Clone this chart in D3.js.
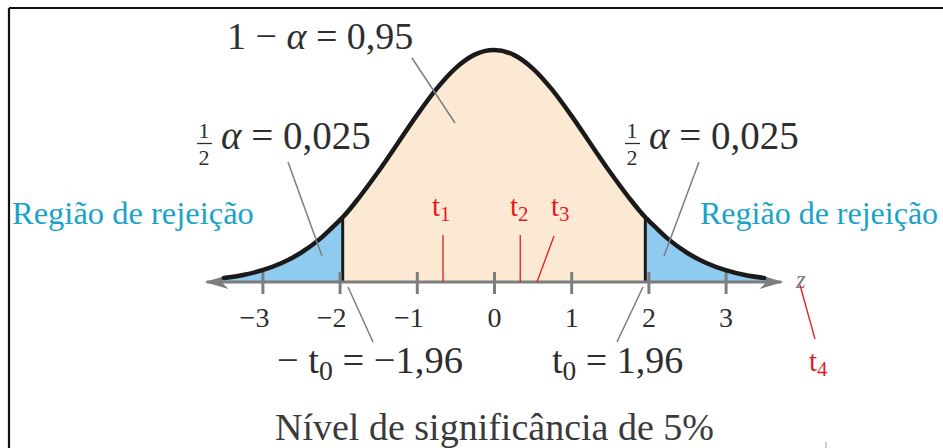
<!DOCTYPE html>
<html>
<head>
<meta charset="utf-8">
<script src="https://cdn.jsdelivr.net/npm/d3@7"></script>
<style>
  body { margin: 0; background: #fff; }
  svg { display: block; }
</style>
</head>
<body>
<svg id="chart" width="943" height="448" font-family="Liberation Serif, Times New Roman, serif"></svg>
<script>
// curve (height relative to the peak)
const curveZ = [-3.5, -3.25, -3, -2.75, -2.5, -2.25, -2, -1.96, -1.75, -1.5, -1.25, -1, -0.75, -0.5, -0.25, 0,
                0.25, 0.5, 0.75, 1, 1.25, 1.5, 1.75, 1.96, 2, 2.25, 2.5, 2.75, 3, 3.25, 3.5];
const curveH = [0.017, 0.030, 0.051, 0.082, 0.126, 0.187, 0.266, 0.279, 0.363, 0.475, 0.596, 0.718, 0.830, 0.921, 0.980, 1,
                0.980, 0.921, 0.830, 0.718, 0.596, 0.475, 0.363, 0.279, 0.266, 0.187, 0.126, 0.082, 0.051, 0.030, 0.017];
const criticalZ = 1.96;
const tickValues = [-3, -2, -1, 0, 1, 2, 3];
const tickLabels = ["\u22123", "\u22122", "\u22121", "0", "1", "2", "3"];
// test statistics marked in red
const testZ = [-0.66, 0.34];
const regionLabel = "Região de rejeição";
const title = "Nível de significância de 5%";

const svg = d3.select("#chart");
const serif = "Liberation Serif, Times New Roman, serif";
const x = d3.scaleLinear().domain([-4, 4]).range([185.2, 802.8]);
const y = d3.scaleLinear().domain([0, 1]).range([282, 50]);

const ink = "#2e2e2e";
const gray = "#7d7d7d";
const red = "#e5181e";
const teal = "#1aa3c9";

// frame (only top and left edges show)
svg.append("line").attr("x1", 9).attr("x2", 943).attr("y1", 8).attr("y2", 8)
    .attr("stroke", "#111").attr("stroke-width", 2.2);
svg.append("line").attr("x1", 9).attr("x2", 9).attr("y1", 8).attr("y2", 448)
    .attr("stroke", "#111").attr("stroke-width", 2.2);

const pts = curveZ.map((z, i) => ({ z: z, h: curveH[i] }));
const area = d3.area().x(d => x(d.z)).y0(y(0)).y1(d => y(d.h)).curve(d3.curveMonotoneX);
const line = d3.line().x(d => x(d.z)).y(d => y(d.h)).curve(d3.curveMonotoneX);

// fills
svg.append("path").datum(pts.filter(d => d.z >= -criticalZ && d.z <= criticalZ))
    .attr("d", area).attr("fill", "#fce9d4");
svg.append("path").datum(pts.filter(d => d.z <= -criticalZ))
    .attr("d", area).attr("fill", "#8ecbef");
svg.append("path").datum(pts.filter(d => d.z >= criticalZ))
    .attr("d", area).attr("fill", "#8ecbef");

// critical boundaries
const hc = curveH[curveZ.indexOf(criticalZ)];
[-criticalZ, criticalZ].forEach(z => {
    svg.append("line").attr("x1", x(z)).attr("x2", x(z)).attr("y1", y(0)).attr("y2", y(hc))
        .attr("stroke", "#1a1a1a").attr("stroke-width", 3);
});

// axis with arrows
const axisY = y(0);
svg.append("line").attr("x1", x(-3.72)).attr("x2", x(3.72)).attr("y1", axisY).attr("y2", axisY)
    .attr("stroke", gray).attr("stroke-width", 3);
function arrow(tip, dir) {
    const p = d3.path();
    p.moveTo(tip, axisY);
    p.lineTo(tip - dir * 24, axisY - 7);
    p.lineTo(tip - dir * 17, axisY);
    p.lineTo(tip - dir * 24, axisY + 7);
    p.closePath();
    svg.append("path").attr("d", p.toString()).attr("fill", gray);
}
arrow(x(-3.75), -1);
arrow(x(3.75), 1);

const axis = svg.append("g").attr("transform", `translate(0,${axisY})`)
    .call(d3.axisBottom(x).tickValues(tickValues).tickSize(12).tickPadding(13)
        .tickFormat((d, i) => tickLabels[i]));
axis.select(".domain").remove();
axis.selectAll(".tick line").attr("y1", -10).attr("y2", 12).attr("stroke", gray).attr("stroke-width", 3);
axis.selectAll(".tick text").attr("fill", ink).attr("font-size", 28)
    .attr("font-family", serif).attr("dx", d => d < 0 ? "-0.3em" : "0");

svg.append("text").attr("x", 796).attr("y", 288).attr("fill", gray)
    .attr("font-size", 25).attr("font-style", "italic").text("z");

// curve outline
svg.append("path").datum(pts).attr("d", line).attr("fill", "none")
    .attr("stroke", "#1a1a1a").attr("stroke-width", 4.5).attr("stroke-linecap", "round");

// leader lines
const leaders = [
    [412, 58, 455, 123], [288, 162, 322, 256], [699, 162, 664, 256],
    [348, 287, 373, 342], [643, 287, 617, 342]
];
leaders.forEach(l => {
    svg.append("line").attr("x1", l[0]).attr("y1", l[1]).attr("x2", l[2]).attr("y2", l[3])
        .attr("stroke", gray).attr("stroke-width", 1.5);
});

// top label
const t1 = svg.append("text").attr("x", 227).attr("y", 49).attr("font-size", 38).attr("fill", ink);
t1.append("tspan").text("1 \u2212 ");
t1.append("tspan").attr("font-style", "italic").text("\u03b1");
t1.append("tspan").text(" = 0,95");

// half-alpha labels
function halfAlpha(x0) {
    svg.append("text").attr("x", x0 + 7).attr("y", 138).attr("text-anchor", "middle")
        .attr("font-size", 22).attr("fill", ink).text("1");
    svg.append("line").attr("x1", x0).attr("x2", x0 + 15).attr("y1", 143.5).attr("y2", 143.5)
        .attr("stroke", ink).attr("stroke-width", 1.3);
    svg.append("text").attr("x", x0 + 7).attr("y", 165).attr("text-anchor", "middle")
        .attr("font-size", 22).attr("fill", ink).text("2");
    const t = svg.append("text").attr("x", x0 + 24).attr("y", 149).attr("font-size", 39).attr("fill", ink);
    t.append("tspan").attr("font-style", "italic").text("\u03b1");
    t.append("tspan").text(" = 0,025");
}
halfAlpha(197);
halfAlpha(625);

// rejection region labels
svg.append("text").attr("x", 12).attr("y", 224).attr("font-size", 32.5).attr("fill", teal).text(regionLabel);
svg.append("text").attr("x", 700).attr("y", 224).attr("font-size", 32).attr("fill", teal).text(regionLabel);

// critical value labels
function tLabel(xs, y0, pre, post, size, color) {
    const t = svg.append("text").attr("x", xs).attr("y", y0).attr("font-size", size).attr("fill", color);
    if (pre) t.append("tspan").text(pre);
    t.append("tspan").text("t");
    t.append("tspan").attr("font-size", size * 0.72).attr("dy", size * 0.18).text(post[0]);
    if (post[1]) t.append("tspan").attr("dy", -size * 0.18).text(post[1]);
    return t;
}
tLabel(277, 373, "\u2212 ", ["0", " = \u22121,96"], 38.5, ink);
tLabel(552, 373, null, ["0", " = 1,96"], 38, ink);

// red test statistics
testZ.forEach(z => {
    svg.append("line").attr("x1", x(z)).attr("x2", x(z)).attr("y1", 235).attr("y2", axisY)
        .attr("stroke", red).attr("stroke-width", 1.3);
});
svg.append("line").attr("x1", 554).attr("y1", 236).attr("x2", 537).attr("y2", axisY)
    .attr("stroke", red).attr("stroke-width", 1.3);
svg.append("line").attr("x1", 800).attr("y1", 285).attr("x2", 815).attr("y2", 339)
    .attr("stroke", red).attr("stroke-width", 1.3);
tLabel(432, 216, null, ["1"], 29, red);
tLabel(510, 216, null, ["2"], 29, red);
tLabel(551, 216, null, ["3"], 29, red);
tLabel(809, 371, null, ["4"], 29, red);

// title
svg.append("text").attr("x", 275).attr("y", 440).attr("font-size", 38).attr("fill", "#3a3a3a").text(title);

// small stray mark at bottom
svg.append("line").attr("x1", 826).attr("x2", 826).attr("y1", 442).attr("y2", 448)
    .attr("stroke", "#999").attr("stroke-width", 1);
</script>
</body>
</html>
